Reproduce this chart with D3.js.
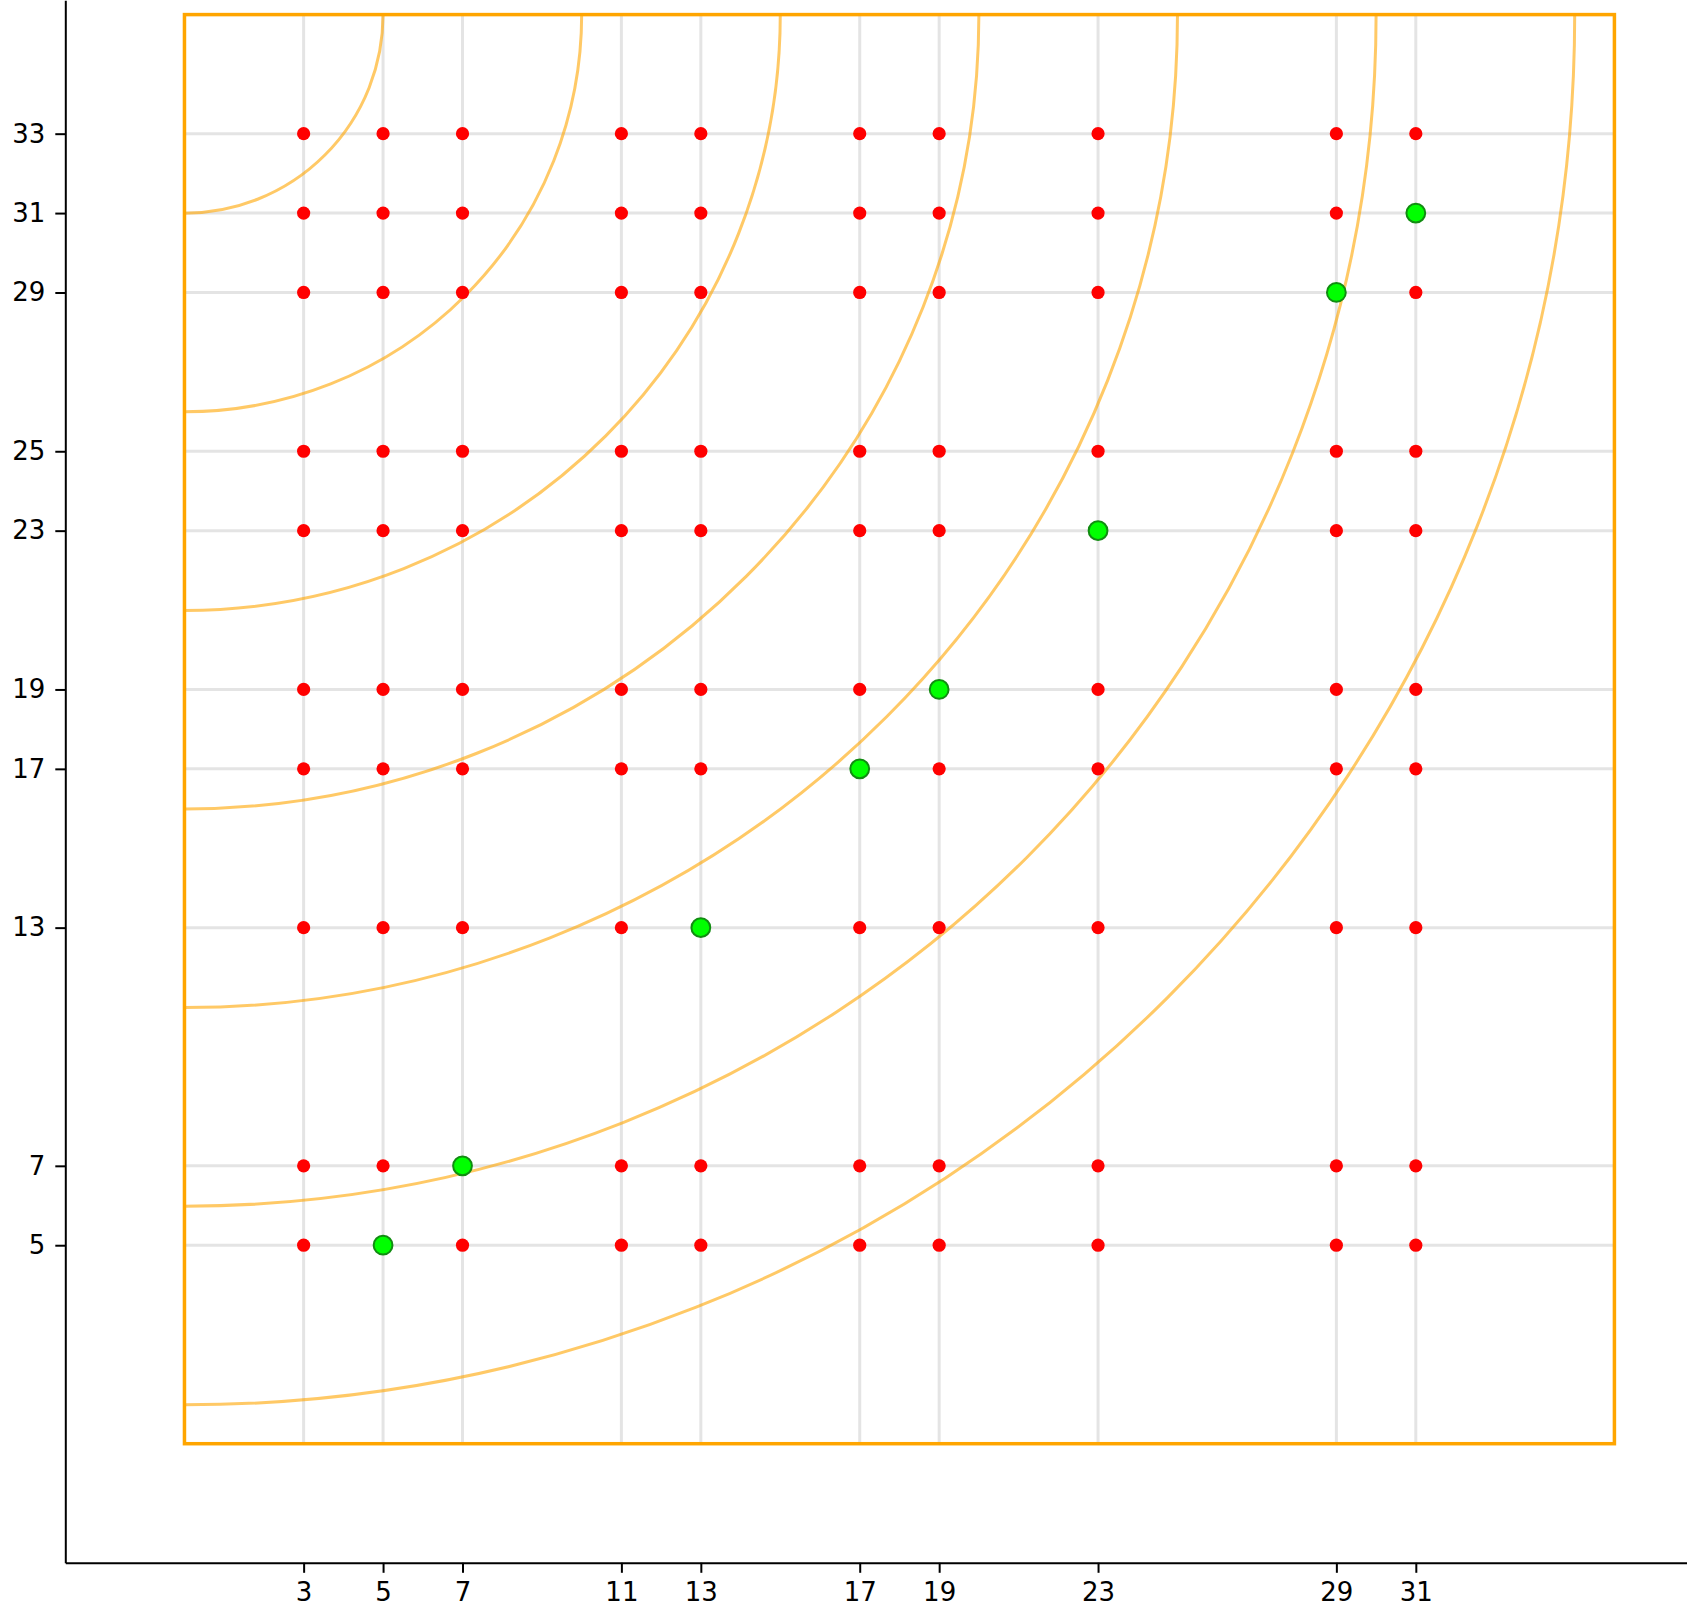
<!DOCTYPE html>
<html>
<head>
<meta charset="utf-8">
<script src="https://cdn.jsdelivr.net/npm/d3@7"></script>
<style>
  html, body { margin: 0; padding: 0; background: #fff; }
  svg { display: block; }
</style>
</head>
<body>
<svg id="chart" width="1687" height="1609"></svg>
<script>
// ---- data ----
const xTicks = [3, 5, 7, 11, 13, 17, 19, 23, 29, 31];
const yTicks = [5, 7, 13, 17, 19, 23, 25, 29, 31, 33];
const greenX = [5, 7, 13, 17, 19, 23, 29, 31];
const greenY = [5, 7, 13, 17, 19, 23, 29, 31];
const arcRadii = [5, 10, 15, 20, 25, 30, 35];
const boxMin = 0, boxMax = 36;
const arcCenterX = 0, arcCenterY = 36;
const xLimits = [-3, 37.85];
const yLimits = [-3, 36.36];

// ---- layout ----
const svg = d3.select("#chart");
const x = d3.scaleLinear().domain(xLimits).range([65.3, 1687.9]);
const y = d3.scaleLinear().domain(yLimits).range([1562.8, 0.3]);

const greens = greenX.map((gx, i) => ({ x: gx, y: greenY[i] }));
const greenSet = new Set(greens.map(d => d.x + "," + d.y));
const reds = [];
xTicks.forEach(px => yTicks.forEach(py => {
  if (!greenSet.has(px + "," + py)) reds.push({ x: px, y: py });
}));

// gridlines
const grid = svg.append("g");
grid.selectAll("line.v").data(xTicks).join("line")
  .attr("x1", d => x(d)).attr("x2", d => x(d))
  .attr("y1", y(boxMin)).attr("y2", y(boxMax))
  .attr("stroke", "#e4e4e4").attr("stroke-width", 3);
grid.selectAll("line.h").data(yTicks).join("line")
  .attr("y1", d => y(d)).attr("y2", d => y(d))
  .attr("x1", x(boxMin)).attr("x2", x(boxMax))
  .attr("stroke", "#e4e4e4").attr("stroke-width", 3);

// box
svg.append("rect")
  .attr("x", x(boxMin)).attr("y", y(boxMax))
  .attr("width", x(boxMax) - x(boxMin))
  .attr("height", y(boxMin) - y(boxMax))
  .attr("fill", "none").attr("stroke", "#FFA500").attr("stroke-width", 3.5);

// arcs
const cx = x(arcCenterX), cy = y(arcCenterY);
svg.append("g").selectAll("path").data(arcRadii).join("path")
  .attr("d", r => {
    const p = d3.path();
    const rx = x(r) - x(0);
    p.moveTo(cx + rx, cy);
    p.arc(cx, cy, rx, 0, Math.PI / 2);
    return p.toString();
  })
  .attr("fill", "none").attr("stroke", "#FFA500")
  .attr("stroke-opacity", 0.6).attr("stroke-width", 3);

// red points
svg.append("g").selectAll("circle").data(reds).join("circle")
  .attr("cx", d => x(d.x)).attr("cy", d => y(d.y))
  .attr("r", 6.6).attr("fill", "#ff0000");

// green points
svg.append("g").selectAll("circle").data(greens).join("circle")
  .attr("cx", d => x(d.x)).attr("cy", d => y(d.y))
  .attr("r", 9.4).attr("fill", "#00ff00")
  .attr("stroke", "#118c11").attr("stroke-width", 2);

// axes
const xAxis = d3.axisBottom(x).tickValues(xTicks).tickSize(10).tickSizeOuter(0).tickPadding(10);
const yAxis = d3.axisLeft(y).tickValues(yTicks).tickSize(10).tickSizeOuter(0).tickPadding(10);

const gx = svg.append("g").attr("transform", `translate(0,${y(-3)})`).call(xAxis);
const gy = svg.append("g").attr("transform", `translate(${x(-3)},0)`).call(yAxis);
[gx, gy].forEach(g => {
  g.selectAll("path.domain").attr("stroke", "#000").attr("stroke-width", 2);
  g.selectAll(".tick line").attr("stroke", "#000").attr("stroke-width", 2);
  g.selectAll(".tick text")
    .attr("font-family", "DejaVu Sans")
    .attr("font-size", 26)
    .attr("fill", "#000");
});
</script>
</body>
</html>
